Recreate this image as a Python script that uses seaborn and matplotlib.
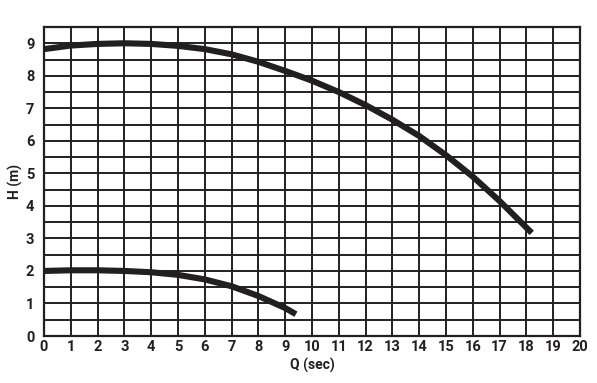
import matplotlib
matplotlib.use("Agg")
import matplotlib.pyplot as plt
import seaborn as sns
import pandas as pd
from matplotlib.ticker import MultipleLocator

# Data
upper_q = [0, 1, 2, 3, 4, 5, 6, 7, 8, 9, 10, 11, 12, 13, 14, 15, 16, 17, 18.2]
upper_h = [8.82, 8.93, 8.98, 9.0, 8.98, 8.92, 8.82, 8.66, 8.43, 8.15, 7.85, 7.5,
           7.1, 6.65, 6.15, 5.56, 4.9, 4.15, 3.17]
lower_q = [0, 1, 2, 3, 4, 5, 6, 7, 8, 9, 9.4]
lower_h = [2.0, 2.02, 2.02, 2.0, 1.96, 1.88, 1.74, 1.53, 1.23, 0.86, 0.67]
x_ticks = list(range(0, 21))
y_ticks = list(range(0, 10))

sns.set_theme(style="white")
plt.rcParams['font.family'] = ['Roboto', 'DejaVu Sans']

INK = '#231f20'

fig = plt.figure(figsize=(5.97, 3.83), dpi=100)
ax = fig.add_axes([0.0737, 0.1227, 0.8978, 0.8068])

df_up = pd.DataFrame({"Q": upper_q, "H": upper_h})
df_lo = pd.DataFrame({"Q": lower_q, "H": lower_h})
sns.lineplot(data=df_up, x="Q", y="H", ax=ax, color=INK, linewidth=4.4,
             solid_capstyle='butt', solid_joinstyle='round', zorder=5)
sns.lineplot(data=df_lo, x="Q", y="H", ax=ax, color=INK, linewidth=4.4,
             solid_capstyle='butt', solid_joinstyle='round', zorder=5)

ax.set_xlim(0, 20)
ax.set_ylim(0, 9.5)
ax.set_xticks(x_ticks)
ax.set_yticks(y_ticks)
ax.yaxis.set_minor_locator(MultipleLocator(0.5))
ax.grid(True, which='both', color=INK, linewidth=1.4)
ax.set_axisbelow(True)
for s in ax.spines.values():
    s.set_color(INK)
    s.set_linewidth(1.6)
    s.set_visible(True)
ax.tick_params(which='both', length=0)
ax.tick_params(axis='x', pad=3)
ax.tick_params(axis='y', pad=7)
for lbl in ax.get_xticklabels() + ax.get_yticklabels():
    lbl.set_fontsize(10.5)
    lbl.set_fontweight('bold')
    lbl.set_color(INK)

ax.set_xlabel("Q (sec)", fontsize=10, fontweight='bold', color=INK, labelpad=3)
ax.set_ylabel("H (m)", fontsize=10, fontweight='bold', color=INK, labelpad=2)

fig.savefig("out.png", dpi=100, facecolor='white')
